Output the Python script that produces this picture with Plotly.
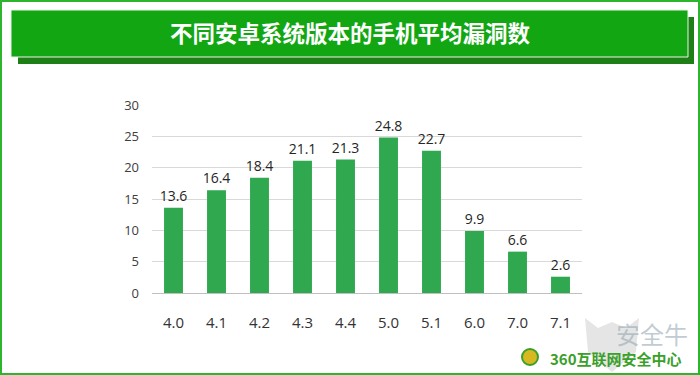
import plotly.graph_objects as go

categories = ["4.0", "4.1", "4.2", "4.3", "4.4", "5.0", "5.1", "6.0", "7.0", "7.1"]
values = [13.6, 16.4, 18.4, 21.1, 21.3, 24.8, 22.7, 9.9, 6.6, 2.6]
y_ticks = [0, 5, 10, 15, 20, 25, 30]
title_text = "不同安卓系统版本的手机平均漏洞数"

W, H = 700, 375
L, R, T, B = 152, 582, 105, 293

def px(x):
    return (x - L) / (R - L)

def py(y):
    return (B - y) / (B - T)

fig = go.Figure(go.Bar(
    x=categories, y=values,
    marker=dict(color="#2fa84f", line=dict(width=0)),
    text=[f"{v:.1f}" for v in values], textposition="outside",
    constraintext="none",
    textfont=dict(family="Open Sans, sans-serif", size=14, color="#262626"),
    cliponaxis=False,
    hoverinfo="skip",
))

shapes = [
    # outer border
    dict(type="rect", xref="paper", yref="paper", x0=px(1), x1=px(699), y0=py(1), y1=py(374),
         line=dict(color="#2db52d", width=2), fillcolor="rgba(0,0,0,0)", layer="below"),
    # banner shadow
    dict(type="rect", xref="paper", yref="paper", x0=px(18), x1=px(694), y0=py(17), y1=py(64),
         line=dict(width=0), fillcolor="#1d7f16", layer="below"),
    # banner
    dict(type="rect", xref="paper", yref="paper", x0=px(11), x1=px(688), y0=py(10), y1=py(57),
         line=dict(color="#e8f5e8", width=1), fillcolor="#12a612", layer="below"),
    # watermark shield
    dict(type="path", xref="paper", yref="paper",
         path=(f"M {px(585)},{py(318)} L {px(598)},{py(328)} L {px(612)},{py(322)} "
               f"L {px(626)},{py(328)} L {px(639)},{py(318)} L {px(636)},{py(352)} "
               f"L {px(612)},{py(372)} L {px(588)},{py(352)} Z"),
         line=dict(width=0), fillcolor="rgba(180,180,180,0.35)", layer="below"),
    # 360 logo circle
    dict(type="circle", xref="paper", yref="paper", x0=px(522), x1=px(538), y0=py(349), y1=py(365),
         line=dict(color="#3aa02a", width=2), fillcolor="#d8b820"),
]

annotations = [
    dict(text=f"<b>{title_text}</b>", xref="paper", yref="paper", x=px(350), y=py(32),
         showarrow=False, font=dict(family="Noto Sans CJK SC", size=22.5, color="white"),
         xanchor="center", yanchor="middle"),
    dict(text="安全牛", xref="paper", yref="paper", x=px(652), y=py(333),
         showarrow=False, font=dict(family="Noto Sans CJK SC", size=24, color="rgba(150,170,180,0.6)"),
         xanchor="center", yanchor="middle"),
    dict(text="<b>360互联网安全中心</b>", xref="paper", yref="paper", x=px(616), y=py(358),
         showarrow=False, font=dict(family="Noto Sans CJK SC", size=15, color="#3aa02a"),
         xanchor="center", yanchor="middle"),
]

fig.update_layout(
    width=W, height=H,
    margin=dict(l=L, r=W - R, t=T, b=H - B),
    paper_bgcolor="white", plot_bgcolor="white",
    bargap=0.56,
    showlegend=False,
    shapes=shapes,
    annotations=annotations,
    font=dict(family="Open Sans, sans-serif", color="#404040"),
    xaxis=dict(
        showline=True, linecolor="#bfbfbf", linewidth=1,
        tickfont=dict(size=15, color="#333333"),
        ticks="", ticklabelstandoff=16, showgrid=False,
    ),
    yaxis=dict(
        range=[0, 30], tickvals=y_ticks, showgrid=True, gridcolor="#d9d9d9", gridwidth=1,
        zeroline=False, showline=False, ticks="", ticklabelstandoff=12,
        tickfont=dict(size=13, color="#404040"),
    ),
)

fig.write_html("out.html", config={"displayModeBar": False},
               post_script="document.body.style.margin='0';")
